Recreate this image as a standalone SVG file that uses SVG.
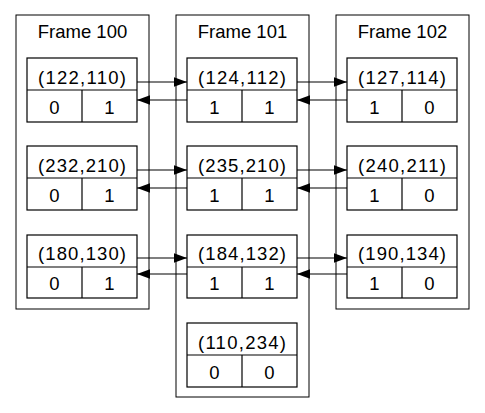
<svg xmlns="http://www.w3.org/2000/svg" width="485" height="413" viewBox="0 0 485 413">
<style>
.cl{fill:none;stroke:#000;stroke-width:1}
.nd{fill:#fff;stroke:#000;stroke-width:1.2}
.t{font-family:"Liberation Sans",Arial,sans-serif;font-size:18.5px;fill:#000;text-anchor:middle}
.e{stroke:#000;stroke-width:1.1;fill:none;marker-end:url(#ah)}
</style>
<defs>
<marker id="ah" markerUnits="userSpaceOnUse" markerWidth="14" markerHeight="10" refX="13" refY="4.7" orient="auto">
<path d="M0,0 L13,4.7 L0,9.4 z" fill="#000"/>
</marker>
</defs>
<rect width="485" height="413" fill="#fff"/>
<g id="cluster100"><rect class="cl" x="16" y="15" width="133" height="294"/><text class="t" x="82.5" y="38">Frame 100</text></g>
<g id="cluster101"><rect class="cl" x="176" y="15" width="133" height="382"/><text class="t" x="242.5" y="38">Frame 101</text></g>
<g id="cluster102"><rect class="cl" x="336" y="15" width="133" height="294"/><text class="t" x="402.5" y="38">Frame 102</text></g>

<g id="n100a"><rect class="nd" x="27" y="58" width="110" height="64"/><line class="nd" x1="27" y1="90" x2="137" y2="90"/><line class="nd" x1="82" y1="90" x2="82" y2="122"/>
<text class="t" x="82" y="84" textLength="88" lengthAdjust="spacing">(122,110)</text><text class="t" x="54.5" y="114">0</text><text class="t" x="109.5" y="114">1</text></g>
<g id="n100b"><rect class="nd" x="27" y="146" width="110" height="64"/><line class="nd" x1="27" y1="178" x2="137" y2="178"/><line class="nd" x1="82" y1="178" x2="82" y2="210"/>
<text class="t" x="82" y="172" textLength="88" lengthAdjust="spacing">(232,210)</text><text class="t" x="54.5" y="202">0</text><text class="t" x="109.5" y="202">1</text></g>
<g id="n100c"><rect class="nd" x="27" y="235" width="110" height="63"/><line class="nd" x1="27" y1="267" x2="137" y2="267"/><line class="nd" x1="82" y1="267" x2="82" y2="298"/>
<text class="t" x="82" y="260" textLength="88" lengthAdjust="spacing">(180,130)</text><text class="t" x="54.5" y="290">0</text><text class="t" x="109.5" y="290">1</text></g>

<g id="n101a"><rect class="nd" x="187" y="58" width="110" height="64"/><line class="nd" x1="187" y1="90" x2="297" y2="90"/><line class="nd" x1="242" y1="90" x2="242" y2="122"/>
<text class="t" x="242" y="84" textLength="88" lengthAdjust="spacing">(124,112)</text><text class="t" x="214.5" y="114">1</text><text class="t" x="269.5" y="114">1</text></g>
<g id="n101b"><rect class="nd" x="187" y="146" width="110" height="64"/><line class="nd" x1="187" y1="178" x2="297" y2="178"/><line class="nd" x1="242" y1="178" x2="242" y2="210"/>
<text class="t" x="242" y="172" textLength="88" lengthAdjust="spacing">(235,210)</text><text class="t" x="214.5" y="202">1</text><text class="t" x="269.5" y="202">1</text></g>
<g id="n101c"><rect class="nd" x="187" y="235" width="110" height="63"/><line class="nd" x1="187" y1="267" x2="297" y2="267"/><line class="nd" x1="242" y1="267" x2="242" y2="298"/>
<text class="t" x="242" y="260" textLength="88" lengthAdjust="spacing">(184,132)</text><text class="t" x="214.5" y="290">1</text><text class="t" x="269.5" y="290">1</text></g>
<g id="n101d"><rect class="nd" x="187" y="323" width="110" height="64"/><line class="nd" x1="187" y1="355" x2="297" y2="355"/><line class="nd" x1="242" y1="355" x2="242" y2="387"/>
<text class="t" x="242" y="349" textLength="88" lengthAdjust="spacing">(110,234)</text><text class="t" x="214.5" y="379">0</text><text class="t" x="269.5" y="379">0</text></g>

<g id="n102a"><rect class="nd" x="347" y="58" width="110" height="64"/><line class="nd" x1="347" y1="90" x2="457" y2="90"/><line class="nd" x1="402" y1="90" x2="402" y2="122"/>
<text class="t" x="402" y="84" textLength="88" lengthAdjust="spacing">(127,114)</text><text class="t" x="374.5" y="114">1</text><text class="t" x="429.5" y="114">0</text></g>
<g id="n102b"><rect class="nd" x="347" y="146" width="110" height="64"/><line class="nd" x1="347" y1="178" x2="457" y2="178"/><line class="nd" x1="402" y1="178" x2="402" y2="210"/>
<text class="t" x="402" y="172" textLength="88" lengthAdjust="spacing">(240,211)</text><text class="t" x="374.5" y="202">1</text><text class="t" x="429.5" y="202">0</text></g>
<g id="n102c"><rect class="nd" x="347" y="235" width="110" height="63"/><line class="nd" x1="347" y1="267" x2="457" y2="267"/><line class="nd" x1="402" y1="267" x2="402" y2="298"/>
<text class="t" x="402" y="260" textLength="88" lengthAdjust="spacing">(190,134)</text><text class="t" x="374.5" y="290">1</text><text class="t" x="429.5" y="290">0</text></g>

<g id="edges">
<line class="e" x1="137" y1="82" x2="187" y2="82"/>
<line class="e" x1="187" y1="100" x2="137" y2="100"/>
<line class="e" x1="297" y1="82" x2="347" y2="82"/>
<line class="e" x1="347" y1="100" x2="297" y2="100"/>
<line class="e" x1="137" y1="170" x2="187" y2="170"/>
<line class="e" x1="187" y1="188" x2="137" y2="188"/>
<line class="e" x1="297" y1="170" x2="347" y2="170"/>
<line class="e" x1="347" y1="188" x2="297" y2="188"/>
<line class="e" x1="137" y1="258" x2="187" y2="258"/>
<line class="e" x1="187" y1="274" x2="137" y2="274"/>
<line class="e" x1="297" y1="258" x2="347" y2="258"/>
<line class="e" x1="347" y1="274" x2="297" y2="274"/>
</g>
</svg>
